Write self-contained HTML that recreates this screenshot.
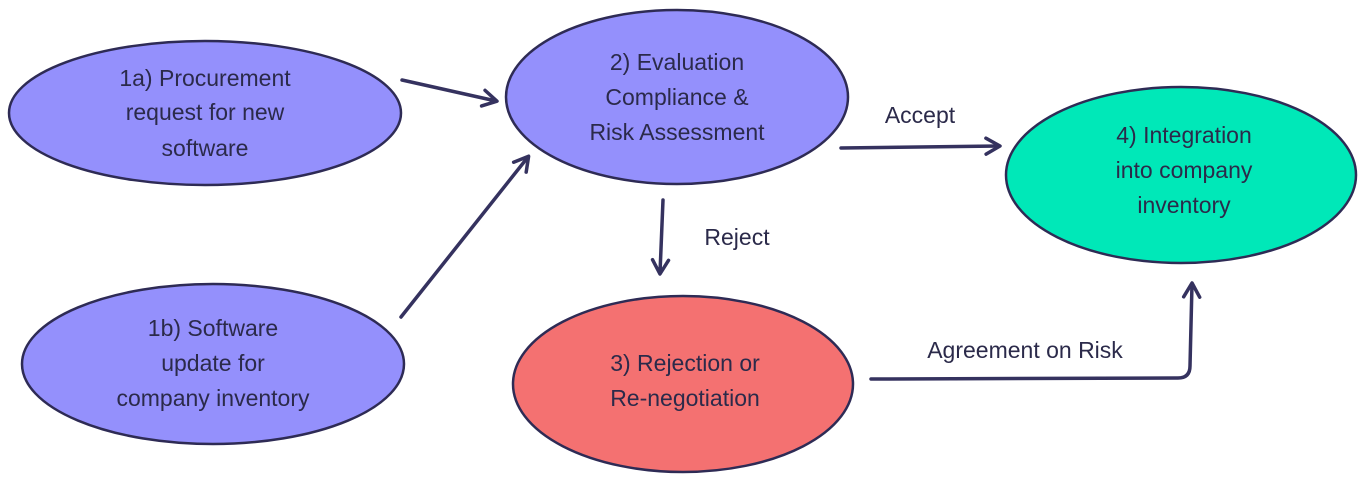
<!DOCTYPE html>
<html><head><meta charset="utf-8"><style>
html,body{margin:0;padding:0;background:#fff;}
svg{display:block;}
text{font-family:"Liberation Sans",sans-serif;font-size:23px;fill:#2b2a4a;text-anchor:middle;}
</style></head><body>
<svg width="1358" height="478" viewBox="0 0 1358 478" xmlns="http://www.w3.org/2000/svg">
<defs>
<marker id="a" markerWidth="20" markerHeight="20" refX="15" refY="10" orient="auto" markerUnits="userSpaceOnUse">
<path d="M2,2 L16,10 L2,18" fill="none" stroke="#35325f" stroke-width="3.5" stroke-linecap="round" stroke-linejoin="round"/>
</marker>
</defs>
<g stroke="#2e2b55" stroke-width="2.5">
<ellipse cx="205" cy="113" rx="196" ry="72" fill="#9490fc"/>
<ellipse cx="677" cy="97" rx="171" ry="87" fill="#9490fc"/>
<ellipse cx="1181" cy="175" rx="175" ry="88" fill="#00e8b8"/>
<ellipse cx="213" cy="364" rx="191" ry="80" fill="#9490fc"/>
<ellipse cx="683" cy="384" rx="170" ry="88" fill="#f47171"/>
</g>
<g stroke="#35325f" stroke-width="3.5" fill="none" stroke-linecap="round" marker-end="url(#a)">
<path d="M402,80 L496,101"/>
<path d="M401,317 L528,157"/>
<path d="M663,200 L660,273"/>
<path d="M841,148 L999,146"/>
<path d="M871,379 L1178,378 Q1190,378 1190,366 L1192,284"/>
</g>
<text x="205" y="86">1a) Procurement</text>
<text x="205" y="120">request for new</text>
<text x="205" y="156">software</text>
<text x="677" y="70">2) Evaluation</text>
<text x="677" y="105">Compliance &amp;</text>
<text x="677" y="140">Risk Assessment</text>
<text x="1184" y="143">4) Integration</text>
<text x="1184" y="178">into company</text>
<text x="1184" y="213">inventory</text>
<text x="213" y="336">1b) Software</text>
<text x="213" y="371">update for</text>
<text x="213" y="406">company inventory</text>
<text x="685" y="371">3) Rejection or</text>
<text x="685" y="406">Re-negotiation</text>
<text x="920" y="123">Accept</text>
<text x="737" y="245">Reject</text>
<text x="1025" y="358">Agreement on Risk</text>
</svg>
</body></html>
